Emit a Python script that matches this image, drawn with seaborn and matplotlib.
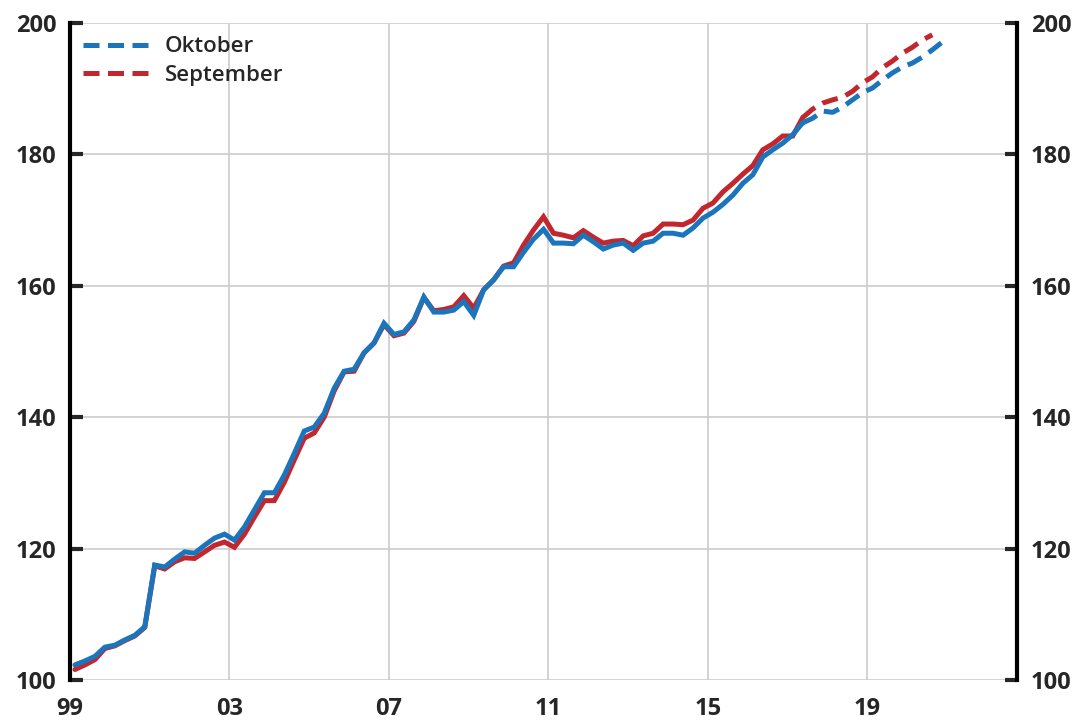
import numpy as np
import pandas as pd
import matplotlib
matplotlib.use("Agg")
import matplotlib.pyplot as plt
from matplotlib.lines import Line2D
import seaborn as sns

# ==============================
# DATA (quarterly, from 1999Q1)
# ==============================
oktober = [102.3, 102.9, 103.6, 105.0, 105.3, 106.1, 106.8, 108.1, 117.5, 117.2,
           118.4, 119.5, 119.3, 120.5, 121.6, 122.2, 121.3, 123.3, 125.9, 128.5,
           128.5, 131.2, 134.5, 137.9, 138.5, 140.6, 144.4, 147.0, 147.3, 149.8,
           151.3, 154.3, 152.6, 153.0, 154.8, 158.3, 156.0, 156.0, 156.3, 157.6,
           155.5, 159.4, 160.9, 162.9, 162.9, 165.1, 167.1, 168.6, 166.5, 166.5,
           166.4, 167.7, 166.7, 165.6, 166.2, 166.5, 165.4, 166.5, 166.8, 168.0,
           168.0, 167.7, 168.8, 170.3, 171.2, 172.4, 173.8, 175.6, 176.9, 179.6,
           180.7, 181.7, 183.0, 184.8, 185.5, 186.6, 186.4, 187.2, 188.3, 189.4,
           190.1, 191.3, 192.4, 193.3, 193.9, 194.8, 195.9, 197.1]
september = [101.6, 102.3, 103.1, 104.8, 105.2, 106.0, 106.7, 108.0, 117.4, 116.9,
             118.0, 118.6, 118.5, 119.5, 120.5, 121.0, 120.2, 122.2, 124.8, 127.3,
             127.3, 130.1, 133.5, 136.8, 137.6, 140.0, 144.0, 146.9, 147.0, 149.8,
             151.3, 154.1, 152.4, 152.8, 154.6, 158.2, 156.2, 156.4, 156.8, 158.5,
             156.6, 159.4, 160.9, 163.0, 163.5, 166.2, 168.5, 170.5, 168.0, 167.7,
             167.3, 168.4, 167.4, 166.5, 166.8, 166.9, 166.1, 167.6, 168.0, 169.4,
             169.4, 169.3, 170.0, 171.8, 172.6, 174.3, 175.6, 177.0, 178.3, 180.7,
             181.6, 182.8, 182.8, 185.6, 186.9, 187.8, 188.3, 188.7, 189.6, 190.9,
             191.8, 193.2, 194.2, 195.4, 196.3, 197.4, 198.2]
last_actual = 73          # index of last observed quarter, forecast after it
year_ticks = [1999, 2003, 2007, 2011, 2015, 2019]
year_labels = ['99', '03', '07', '11', '15', '19']
y_ticks = [100, 120, 140, 160, 180, 200]

BLUE = '#1B75BC'
RED = '#C1272D'
DASH = (3.2, 1.7)
LW = 3.6


def to_frame(vals):
    k = np.arange(len(vals))
    return pd.DataFrame({'x': 1999 + (k + 0.5) / 4, 'y': vals})


df_okt = to_frame(oktober)
df_sep = to_frame(september)

# ==============================
# PLOT
# ==============================
sns.set_style('white')
plt.rcParams['font.family'] = ['Open Sans', 'DejaVu Sans']

fig = plt.figure(figsize=(10.84, 7.27), dpi=100)
ax = fig.add_axes([70 / 1084, 1 - 680 / 727, (1017 - 70) / 1084, (680 - 23) / 727])

for df, col in [(df_sep, RED), (df_okt, BLUE)]:
    hist = df.iloc[:last_actual + 1]
    fc = df.iloc[last_actual:]
    sns.lineplot(data=hist, x='x', y='y', ax=ax, color=col, lw=LW,
                 solid_joinstyle='miter')
    sns.lineplot(data=fc, x='x', y='y', ax=ax, color=col, lw=LW,
                 dashes=False, linestyle=(0, DASH))

ax.set_xlim(1999, 2022.75)
ax.set_ylim(100, 200)
ax.set_xticks(year_ticks)
ax.set_xticklabels(year_labels)
ax.set_yticks(y_ticks)
ax.set_xlabel('')
ax.set_ylabel('')

ax.grid(True, color='#cccccc', lw=1.2)
ax.set_axisbelow(True)

for s in ['top', 'bottom']:
    ax.spines[s].set_visible(False)
for s in ['left', 'right']:
    ax.spines[s].set_visible(True)
    ax.spines[s].set_color('black')
    ax.spines[s].set_linewidth(3)

ax.tick_params(axis='y', which='both', direction='in', length=9, width=3,
               left=True, right=True, labelleft=True, labelright=True,
               labelsize=17, pad=10)
ax.tick_params(axis='x', length=0, labelsize=17, pad=12)
for lab in ax.get_xticklabels() + ax.get_yticklabels():
    lab.set_fontweight('bold')

handles = [Line2D([0], [0], color=BLUE, lw=LW, linestyle=(0, DASH)),
           Line2D([0], [0], color=RED, lw=LW, linestyle=(0, DASH))]
leg = ax.legend(handles, ['Oktober', 'September'], loc='upper left',
                frameon=False, prop={'size': 16, 'weight': 'semibold'},
                handlelength=3.2, handletextpad=0.45,
                labelspacing=0.35, borderaxespad=0.2)

fig.savefig('out.png', dpi=100, facecolor='white')
